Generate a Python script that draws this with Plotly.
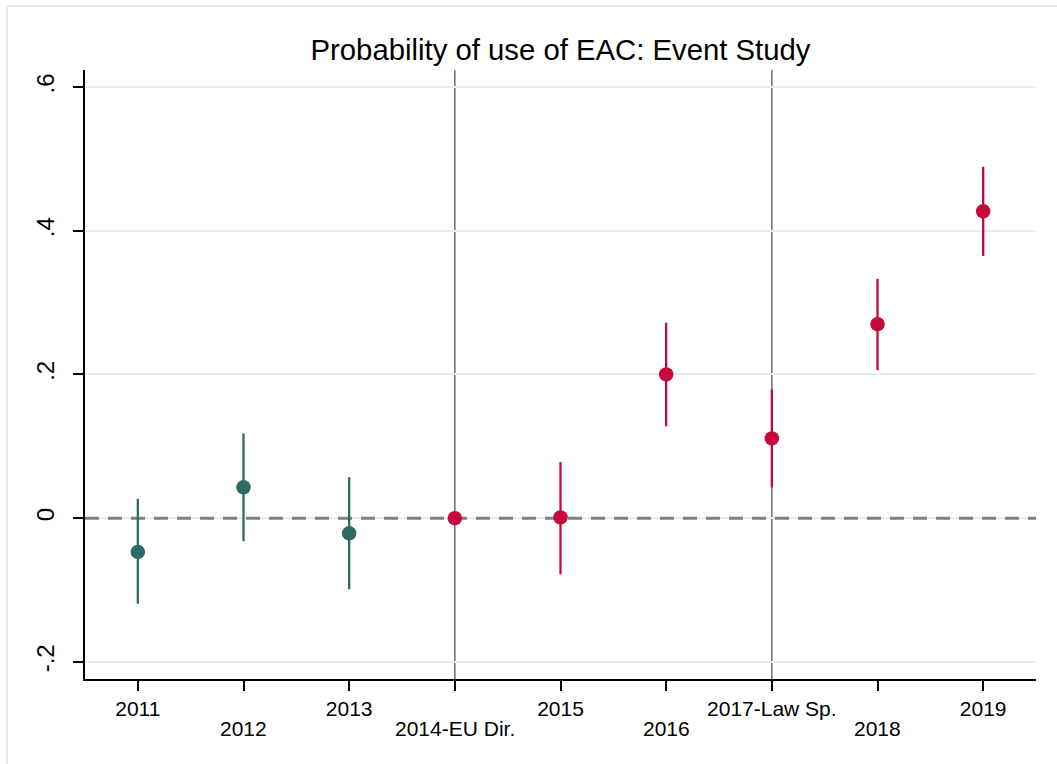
import plotly.graph_objects as go

# Event-study estimates (coefficient and 95% CI bounds) by year
years = [2011, 2012, 2013, 2014, 2015, 2016, 2017, 2018, 2019]
coef = [-0.047, 0.043, -0.021, 0.0, 0.001, 0.200, 0.111, 0.270, 0.427]
ci_lo = [-0.119, -0.032, -0.099, 0.0, -0.078, 0.128, 0.043, 0.206, 0.365]
ci_hi = [0.027, 0.118, 0.057, 0.0, 0.078, 0.272, 0.179, 0.333, 0.489]
tick_labels = ["2011", "2012", "2013", "2014-EU Dir.", "2015",
               "2016", "2017-Law Sp.", "2018", "2019"]
event_years = [2014, 2017]
y_ticks = [-0.2, 0.0, 0.2, 0.4, 0.6]
y_tick_labels = ["-.2", "0", ".2", ".4", ".6"]
x_range = [2010.5, 2019.5]
y_range = [-0.2238, 0.6237]

PRE_COLOR = "#2d6b64"
POST_COLOR = "#c50a3b"
FONT = "Liberation Sans, Arial, sans-serif"
TICK_SIZE = 21
YTICK_SIZE = 24

fig = go.Figure()

# dashed reference line at zero, drawn over the grid and under the estimates
fig.add_trace(go.Scatter(
    x=x_range, y=[0, 0], mode="lines",
    line=dict(color="#808080", width=3, dash="14px,9px"),
    showlegend=False, hoverinfo="skip",
))


def add_group(sel, color):
    xs = [years[i] for i in sel]
    ys = [coef[i] for i in sel]
    up = [ci_hi[i] - coef[i] for i in sel]
    dn = [coef[i] - ci_lo[i] for i in sel]
    fig.add_trace(go.Scatter(
        x=xs, y=ys, mode="markers",
        marker=dict(color=color, size=14.5, line=dict(width=0)),
        error_y=dict(type="data", symmetric=False, array=up, arrayminus=dn,
                     color=color, thickness=2.3, width=0),
        showlegend=False, hoverinfo="x+y",
    ))


pre = [i for i, yr in enumerate(years) if yr < event_years[0]]
post = [i for i, yr in enumerate(years) if yr >= event_years[0]]
add_group(pre, PRE_COLOR)
add_group(post, POST_COLOR)

# event-date markers
shapes = []
for ev in event_years:
    shapes.append(dict(type="line", xref="x", yref="paper", x0=ev, x1=ev, y0=0, y1=1,
                       line=dict(color="#606060", width=1.4), layer="between"))
# light outer frame
shapes.append(dict(type="line", xref="paper", yref="paper", x0=-0.082, x1=1.03,
                   y0=1.105, y1=1.105, line=dict(color="#e3eef0", width=2)))
shapes.append(dict(type="line", xref="paper", yref="paper", x0=-0.082, x1=-0.082,
                   y0=1.105, y1=-0.2, line=dict(color="#e3eef0", width=2)))

# Stagger x tick labels on two rows
top_text = [lab if i % 2 == 0 else "" for i, lab in enumerate(tick_labels)]
annotations = []
for i, (yr, lab) in enumerate(zip(years, tick_labels)):
    if i % 2 == 1:
        annotations.append(dict(x=yr, y=0, xref="x", yref="paper", text=lab,
                                showarrow=False, yanchor="top", yshift=-36,
                                font=dict(family=FONT, size=TICK_SIZE, color="#000")))

fig.update_layout(
    width=1057, height=764,
    margin=dict(l=85, r=21, t=70, b=85),
    paper_bgcolor="white", plot_bgcolor="white",
    title=dict(text="Probability of use of EAC: Event Study",
               x=0.5, xref="paper", xanchor="center",
               y=1 - 50 / 764, yref="container", yanchor="middle",
               font=dict(family=FONT, size=29.3, color="#000")),
    font=dict(family=FONT, size=TICK_SIZE, color="#000"),
    shapes=shapes,
    annotations=annotations,
    xaxis=dict(range=x_range, tickmode="array", tickvals=years,
               ticktext=top_text, ticks="outside", ticklen=10, tickwidth=1.5,
               tickcolor="#000", showline=True, linecolor="#000", linewidth=1.5,
               showgrid=False, zeroline=False, tickfont=dict(size=TICK_SIZE)),
    yaxis=dict(range=y_range, tickmode="array", tickvals=y_ticks,
               ticktext=y_tick_labels, tickangle=-90, ticks="outside", ticklen=10,
               tickwidth=1.5, tickcolor="#000", showline=True, linecolor="#000",
               linewidth=1.5, showgrid=True, gridcolor="#e3eef0", gridwidth=2,
               zeroline=False, tickfont=dict(size=YTICK_SIZE), ticklabelstandoff=10),
)

fig.write_html("out.html")
